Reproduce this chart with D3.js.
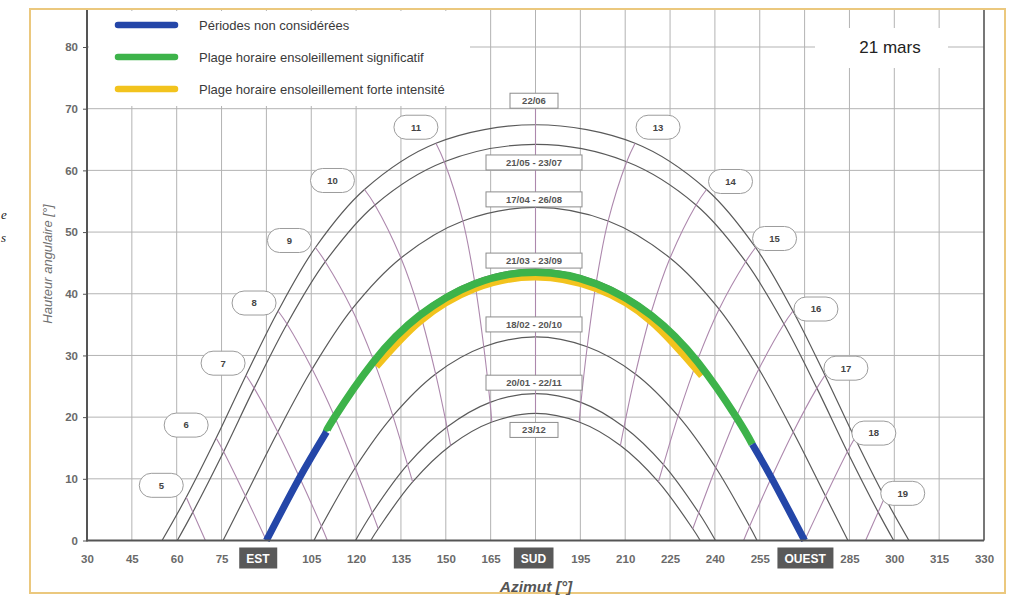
<!DOCTYPE html>
<html>
<head>
<meta charset="utf-8">
<script src="https://cdn.jsdelivr.net/npm/d3@7"></script>
<style>
  body { margin: 0; background: #fff; }
  svg { display: block; font-family: "Liberation Sans", Arial, sans-serif; }
</style>
</head>
<body>
<svg id="chart" width="1014" height="596"></svg>
<script>
// ---- Sun path diagram: azimuth (°) vs solar altitude (°) ----

// Date paths, from the summer solstice down to the winter solstice
const dateLabels = ["22/06", "21/05 - 23/07", "17/04 - 26/08", "21/03 - 23/09",
                    "18/02 - 20/10", "20/01 - 22/11", "23/12"];
// Azimuth of sunrise / sunset on each path (altitude 0)
const riseAz = [55.1, 60.2, 75.5, 90.0, 105.9, 119.8, 124.9];
const setAz  = [304.9, 299.8, 284.5, 270.0, 254.1, 240.2, 235.1];

// Solar hours shown by the hour lines
const hours = [5, 6, 7, 8, 9, 10, 11, 12, 13, 14, 15, 16, 17, 18, 19];

// Sun position at each hour on each path (null: sun below the horizon)
const hourAz = [
  [63.2, 73.2, 83.2, 93.9, 106.4, 122.8, 146.7, 180, 213.3, 237.2, 253.6, 266.1, 276.8, 286.8, 296.8],
  [65.4, 75.7, 85.9, 96.9, 109.7, 126.3, 149.5, 180, 210.5, 233.7, 250.3, 263.1, 274.1, 284.3, 294.6],
  [null, 83.0, 93.8, 105.3, 118.6, 135.0, 155.7, 180, 204.3, 225.0, 241.4, 254.7, 266.2, 277.0, null],
  [null, 90.0, 100.9, 112.6, 125.7, 141.3, 159.6, 180, 200.4, 218.7, 234.3, 247.4, 259.1, 270.0, null],
  [null, null, 108.4, 119.7, 132.3, 146.6, 162.7, 180, 197.3, 213.4, 227.7, 240.3, 251.6, null, null],
  [null, null, null, 125.4, 137.2, 150.4, 164.8, 180, 195.2, 209.6, 222.8, 234.6, null, null, null],
  [null, null, null, 127.4, 138.9, 151.6, 165.4, 180, 194.6, 208.4, 221.1, 232.6, null, null, null]
];
const hourAlt = [
  [7.0, 16.6, 26.8, 37.2, 47.5, 56.9, 64.4, 67.4, 64.4, 56.9, 47.5, 37.2, 26.8, 16.6, 7.0],
  [4.6, 14.4, 24.7, 35.1, 45.2, 54.4, 61.4, 64.2, 61.4, 54.4, 45.2, 35.1, 24.7, 14.4, 4.6],
  [null, 7.2, 17.6, 27.8, 37.5, 45.8, 51.8, 54.0, 51.8, 45.8, 37.5, 27.8, 17.6, 7.2, null],
  [null, 0, 10.4, 20.3, 29.4, 37.0, 42.1, 44.0, 42.1, 37.0, 29.4, 20.3, 10.4, 0, null],
  [null, null, 2.3, 11.8, 20.2, 27.0, 31.4, 33.0, 31.4, 27.0, 20.2, 11.8, 2.3, null, null],
  [null, null, null, 4.5, 12.3, 18.4, 22.4, 23.8, 22.4, 18.4, 12.3, 4.5, null, null, null],
  [null, null, null, 1.9, 9.5, 15.4, 19.2, 20.6, 19.2, 15.4, 9.5, 1.9, null, null, null]
];
// Azimuth where an hour line reaches the horizon (null: it ends on a path)
const hourHorizonAz = [69.6, null, 110.4, null, null, null, null, null, null, null, null, null, 249.6, null, 290.4];
// Upper end of the noon line
const noonTopAlt = 70;

// Highlighted periods on 21 mars
const offPeriodAM = [[90.0, 0], [100.9, 10.0], [110.1, 17.6]];
const offPeriodPM = [[252.5, 15.6], [259.1, 10.0], [270.0, 0]];
const sunnyPeriod = [[110.1, 17.6], [112.6, 19.8], [125.7, 28.9], [141.3, 36.5], [159.6, 41.6],
                     [180, 43.5], [200.4, 41.6], [218.7, 36.5], [234.3, 28.9], [247.4, 19.8], [252.5, 15.6]];
const strongPeriod = [[126.8, 28.2], [141.3, 35.5], [159.6, 40.8], [180, 42.7],
                      [200.4, 40.8], [218.7, 35.5], [235.6, 26.7]];

// Axes
const xTickValues = [30, 45, 60, 75, 90, 105, 120, 135, 150, 165, 180, 195, 210, 225, 240, 255, 270, 285, 300, 315, 330];
const xTickLabels = ["30", "45", "60", "75", "EST", "105", "120", "135", "150", "165", "SUD",
                     "195", "210", "225", "240", "255", "OUEST", "285", "300", "315", "330"];
const yTickValues = [0, 10, 20, 30, 40, 50, 60, 70, 80];

const legendLabels = ["Périodes non considérées",
                      "Plage horaire ensoleillement significatif",
                      "Plage horaire ensoleillement forte intensité"];
const dayTitle = "21 mars";

// ---- Layout ----
const COLORS = { blue: "#2446a8", green: "#3db34a", yellow: "#f2c31d" };
const X0 = 87, X1 = 984, TOP = 10;
const x = d3.scaleLinear().domain([30, 330]).range([X0, X1]);
const y = d3.scaleLinear().domain([0, 80]).range([540.5, 47]);
const svg = d3.select("#chart");

// Page frame
svg.append("rect")
  .attr("x", 30).attr("y", 9).attr("width", 975).attr("height", 584)
  .attr("fill", "#fff").attr("stroke", "#ebc87e").attr("stroke-width", 2);

// Scrap of neighbouring page text on the left margin
svg.append("text").attr("x", 1).attr("y", 219).text("e")
  .attr("font-family", "Liberation Serif, serif").attr("font-style", "italic").attr("font-size", 13).attr("fill", "#222");
svg.append("text").attr("x", 1).attr("y", 242).text("s")
  .attr("font-family", "Liberation Serif, serif").attr("font-style", "italic").attr("font-size", 13).attr("fill", "#222");

// Grid
const gridV = svg.append("g").attr("stroke", "#b3b3b3").attr("stroke-width", 1);
gridV.selectAll("line").data(xTickValues.slice(1, -1)).join("line")
  .attr("x1", d => x(d)).attr("x2", d => x(d)).attr("y1", TOP).attr("y2", y(0));
const gridH = svg.append("g").attr("stroke", "#b3b3b3").attr("stroke-width", 1);
gridH.selectAll("line").data(yTickValues.slice(1)).join("line")
  .attr("x1", X0).attr("x2", X1).attr("y1", d => y(d)).attr("y2", d => y(d));

const line = d3.line()
  .x(d => x(d[0])).y(d => y(d[1]))
  .curve(d3.curveCatmullRom.alpha(0.5));
// Smooth spline for the thick period bands
const bandLine = d3.line()
  .x(d => x(d[0])).y(d => y(d[1]))
  .curve(d3.curveNatural);

// Date paths: sunrise, hourly positions above the horizon, sunset
const datePaths = dateLabels.map((lab, i) => {
  const pts = [[riseAz[i], 0]];
  hourAz[i].forEach((az, j) => {
    if (az !== null && hourAlt[i][j] > 0) pts.push([az, hourAlt[i][j]]);
  });
  pts.push([setAz[i], 0]);
  return pts;
});

// Hour lines: same hour across all paths
const hourLines = hours.map((h, j) => {
  const pts = [];
  if (h === 12) pts.push([180, noonTopAlt]);
  dateLabels.forEach((lab, i) => {
    if (hourAz[i][j] !== null) pts.push([hourAz[i][j], hourAlt[i][j]]);
  });
  if (hourHorizonAz[j] !== null) pts.push([hourHorizonAz[j], 0]);
  return pts;
});

svg.append("g").attr("fill", "none").attr("stroke", "#5a5a5a").attr("stroke-width", 1.2)
  .selectAll("path").data(datePaths).join("path").attr("d", line);

svg.append("g").attr("fill", "none").attr("stroke", "#ad88ad").attr("stroke-width", 1.1)
  .selectAll("path").data(hourLines).join("path").attr("d", line);

// Highlighted periods
const bands = svg.append("g").attr("fill", "none").attr("stroke-linejoin", "round");
bands.append("path").datum(strongPeriod).attr("d", bandLine)
  .attr("stroke", COLORS.yellow).attr("stroke-width", 7);
bands.append("path").datum(sunnyPeriod).attr("d", bandLine)
  .attr("stroke", COLORS.green).attr("stroke-width", 7.5);
[offPeriodAM, offPeriodPM].forEach(p => {
  bands.append("path").datum(p).attr("d", bandLine)
    .attr("stroke", COLORS.blue).attr("stroke-width", 7);
});

// Date labels
const dateBoxDy = [-24, 18, -8, -8.5, -12.5, -11, 16.5];
const dateBoxes = svg.append("g").selectAll("g").data(dateLabels).join("g")
  .attr("transform", (d, i) => `translate(${x(180) - 1.5},${y(hourAlt[i][7]) + dateBoxDy[i]})`);
dateBoxes.append("rect")
  .attr("x", d => d.length > 6 ? -48 : -24).attr("width", d => d.length > 6 ? 96 : 48)
  .attr("y", -7.5).attr("height", 15)
  .attr("fill", "#fff").attr("stroke", "#8c8c8c").attr("stroke-width", 1);
dateBoxes.append("text").text(d => d)
  .attr("text-anchor", "middle").attr("dy", "0.35em")
  .attr("font-size", 9.5).attr("font-weight", "bold").attr("fill", "#555");

// Hour labels beside the 22/06 path
const hourLabelOffset = {5: [-25, -12], 6: [-30, -13], 7: [-23, -12], 8: [-24, -8], 9: [-26, -7],
  10: [-32, -9], 11: [-20, -16], 13: [23, -16], 14: [24, -8], 15: [19, -9], 16: [23, -2],
  17: [21, -7], 18: [19, -5], 19: [18, -4]};
const hourLabels = svg.append("g").selectAll("g")
  .data(hours.map((h, j) => ({ h, j })).filter(d => hourLabelOffset[d.h]))
  .join("g")
  .attr("transform", d => `translate(${x(hourAz[0][d.j]) + hourLabelOffset[d.h][0]},${y(hourAlt[0][d.j]) + hourLabelOffset[d.h][1]})`);
hourLabels.append("rect")
  .attr("x", -22).attr("y", -12).attr("width", 44).attr("height", 24).attr("rx", 12)
  .attr("fill", "#fff").attr("stroke", "#9c9c9c").attr("stroke-width", 1);
hourLabels.append("text").text(d => d.h)
  .attr("text-anchor", "middle").attr("dy", "0.35em")
  .attr("font-size", 9.5).attr("font-weight", "bold").attr("fill", "#444");

// Axes
const yAxis = svg.append("g").attr("transform", `translate(${X0},0)`)
  .call(d3.axisLeft(y).tickValues(yTickValues).tickSize(4).tickPadding(5));
yAxis.select(".domain").remove();
yAxis.selectAll("line").attr("stroke", "#555");
yAxis.selectAll("text").attr("font-size", 11.5).attr("font-weight", "bold").attr("fill", "#6a6a6a")
  .attr("font-family", "Liberation Sans, Arial, sans-serif");

const xAxis = svg.append("g").attr("transform", `translate(0,${y(0)})`)
  .call(d3.axisBottom(x).tickValues(xTickValues).tickFormat((d, i) => xTickLabels[i]).tickSize(0).tickPadding(14));
xAxis.select(".domain").remove();
xAxis.selectAll("text").attr("font-size", 11.5).attr("font-weight", "bold").attr("fill", "#6a6a6a")
  .attr("font-family", "Liberation Sans, Arial, sans-serif");
// Cardinal directions in dark tags
const cardinalShift = { EST: -9, SUD: -2.5, OUEST: 0 };
xAxis.selectAll(".tick").each(function (d, i) {
  const lab = xTickLabels[i];
  if (!(lab in cardinalShift)) return;
  const t = d3.select(this).select("text").attr("fill", "#fff").attr("dx", cardinalShift[lab])
    .attr("font-size", 12);
  const bb = t.node().getBBox();
  d3.select(this).insert("rect", "text")
    .attr("x", bb.x - 7).attr("width", bb.width + 14)
    .attr("y", 7).attr("height", 21).attr("fill", "#595959");
});

// Plot border lines
svg.append("line").attr("x1", X0).attr("x2", X0).attr("y1", TOP).attr("y2", y(0) + 1)
  .attr("stroke", "#555").attr("stroke-width", 2);
svg.append("line").attr("x1", X0).attr("x2", X1).attr("y1", y(0)).attr("y2", y(0))
  .attr("stroke", "#555").attr("stroke-width", 2);
svg.append("line").attr("x1", X1).attr("x2", X1).attr("y1", TOP).attr("y2", y(0))
  .attr("stroke", "#555").attr("stroke-width", 1.6);

// Axis titles
svg.append("text").text("Hauteur angulaire [°]")
  .attr("transform", "translate(52,264) rotate(-90)")
  .attr("text-anchor", "middle").attr("font-size", 13).attr("font-style", "italic")
  .attr("fill", "#707070");
svg.append("text").text("Azimut [°]")
  .attr("x", 536).attr("y", 592).attr("text-anchor", "middle")
  .attr("font-size", 15.5).attr("font-style", "italic").attr("font-weight", "bold").attr("fill", "#555");

// Legend
svg.append("rect").attr("x", 89).attr("y", 11).attr("width", 381).attr("height", 95).attr("fill", "#fff");
const legendColors = [COLORS.blue, COLORS.green, COLORS.yellow];
const legend = svg.append("g").selectAll("g").data(legendLabels).join("g")
  .attr("transform", (d, i) => `translate(0,${25 + i * 32})`);
legend.append("line").attr("x1", 118).attr("x2", 175)
  .attr("stroke", (d, i) => legendColors[i]).attr("stroke-width", 6.5).attr("stroke-linecap", "round");
legend.append("text").text(d => d).attr("x", 199).attr("dy", "0.35em")
  .attr("font-size", 13).attr("fill", "#3a3a3a");

// Day title
svg.append("rect").attr("x", 815).attr("y", 28).attr("width", 133).attr("height", 40).attr("fill", "#fff");
svg.append("text").text(dayTitle).attr("x", 890).attr("y", 47).attr("dy", "0.35em")
  .attr("text-anchor", "middle").attr("font-size", 17).attr("fill", "#222");
</script>
</body>
</html>
